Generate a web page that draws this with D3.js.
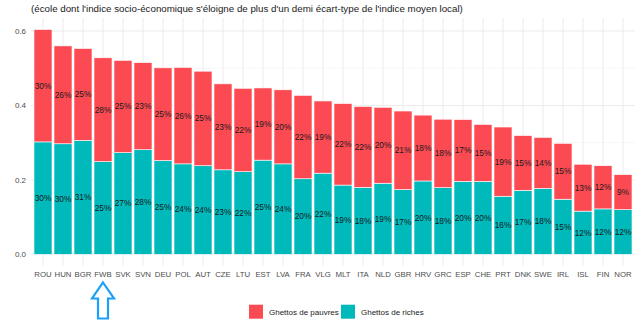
<!DOCTYPE html>
<html>
<head>
<meta charset="utf-8">
<script src="https://cdn.jsdelivr.net/npm/d3@7"></script>
<style>
  html, body { margin: 0; padding: 0; background: #fff; }
  svg { display: block; font-family: "Liberation Sans", Arial, sans-serif; }
</style>
</head>
<body>
<div id="chart"></div>
<script>
const countries = ["ROU","HUN","BGR","FWB","SVK","SVN","DEU","POL","AUT","CZE",
  "LTU","EST","LVA","FRA","VLG","MLT","ITA","NLD","GBR","HRV",
  "GRC","ESP","CHE","PRT","DNK","SWE","IRL","ISL","FIN","NOR"]
// ghettos de riches (teal, bottom)
const riches = [0.302,0.297,0.306,0.249,0.273,0.281,0.252,0.243,0.238,0.227,
  0.222,0.253,0.243,0.203,0.218,0.186,0.180,0.191,0.174,0.197,
  0.179,0.196,0.196,0.156,0.172,0.177,0.148,0.116,0.122,0.120]
// ghettos de pauvres (red, top)
const pauvres = [0.302,0.263,0.247,0.279,0.248,0.234,0.249,0.259,0.254,0.231,
  0.224,0.194,0.199,0.224,0.194,0.219,0.217,0.204,0.211,0.177,
  0.184,0.166,0.153,0.186,0.147,0.137,0.150,0.126,0.116,0.094]
const yTicks = [0, 0.2, 0.4, 0.6]
const yMinor = [0.1, 0.3, 0.5]
const seriesNames = ["Ghettos de pauvres", "Ghettos de riches"]
const subtitle = "(école dont l'indice socio-économique s'éloigne de plus d'un demi écart-type de l'indice moyen local)"

const W = 640, H = 329
const colRed = "#FC4A53", colTeal = "#00B9BA"
const panel = { left: 31, right: 635, top: 18, bottom: 265.5 }

const svg = d3.select("#chart").append("svg")
  .attr("width", W).attr("height", H)

const x = d3.scaleBand().domain(countries)
  .range([panel.left, panel.right])
  .paddingInner(0.1).paddingOuter(0.15)
const y = d3.scaleLinear().domain([0, 0.6]).range([254.3, 31])

// grid
const grid = svg.append("g")
grid.selectAll(".minor").data(yMinor).join("line")
  .attr("x1", panel.left).attr("x2", panel.right)
  .attr("y1", d => y(d)).attr("y2", d => y(d))
  .attr("stroke", "#F2F2F2").attr("stroke-width", 0.6)
grid.selectAll(".major").data(yTicks).join("line")
  .attr("x1", panel.left).attr("x2", panel.right)
  .attr("y1", d => y(d)).attr("y2", d => y(d))
  .attr("stroke", "#EBEBEB").attr("stroke-width", 1)
grid.selectAll(".vert").data(countries).join("line")
  .attr("x1", d => x(d) + x.bandwidth() / 2).attr("x2", d => x(d) + x.bandwidth() / 2)
  .attr("y1", panel.top).attr("y2", panel.bottom)
  .attr("stroke", "#EBEBEB").attr("stroke-width", 1)

// stacked bars
const rows = countries.map((c, i) => ({ c, riches: riches[i], pauvres: pauvres[i] }))
const stack = d3.stack().keys(["riches", "pauvres"])(rows)
const colors = { riches: colTeal, pauvres: colRed }

const layers = svg.append("g").selectAll("g").data(stack).join("g")
  .attr("fill", d => colors[d.key])
layers.selectAll("rect").data(d => d).join("rect")
  .attr("x", d => x(d.data.c))
  .attr("width", x.bandwidth())
  .attr("y", d => y(d[1]))
  .attr("height", d => y(d[0]) - y(d[1]))
  .attr("stroke", "#fff").attr("stroke-width", 0.6)

// percentage labels
layers.selectAll("text").data(d => d).join("text")
  .attr("x", d => x(d.data.c) + x.bandwidth() / 2)
  .attr("y", d => y((d[0] + d[1]) / 2))
  .attr("dy", "0.35em")
  .attr("text-anchor", "middle")
  .attr("font-size", 8.3)
  .attr("fill", "#1a1a1a")
  .text(d => Math.round((d[1] - d[0]) * 100) + "%")

// y axis labels
svg.append("g").selectAll("text").data(yTicks).join("text")
  .attr("x", 26).attr("y", d => y(d)).attr("dy", "0.35em")
  .attr("text-anchor", "end").attr("font-size", 8)
  .attr("fill", "#4D4D4D")
  .text(d => d3.format(".1f")(d))

// x axis labels
svg.append("g").selectAll("text").data(countries).join("text")
  .attr("x", d => x(d) + x.bandwidth() / 2).attr("y", 274).attr("dy", "0.35em")
  .attr("text-anchor", "middle").attr("font-size", 7.8)
  .attr("fill", "#4D4D4D")
  .text(d => d)

// subtitle
svg.append("text")
  .attr("x", 31).attr("y", 9).attr("dy", "0.35em")
  .attr("font-size", 9.75).attr("fill", "#1a1a1a")
  .text(subtitle)

// arrow pointing at FWB
const ax = x("FWB") + x.bandwidth() / 2
const arrow = [[0, 0], [11, 16], [5, 16], [5, 36], [-5, 36], [-5, 16], [-11, 16]]
svg.append("path")
  .attr("d", d3.line()(arrow.map(p => [ax + p[0], 282.5 + p[1]])) + "Z")
  .attr("fill", "#fff").attr("stroke", "#1AA0F5").attr("stroke-width", 2.2)
  .attr("stroke-linejoin", "miter")

// legend
const legend = svg.append("g")
const legX = [249, 341]
const legCol = [colRed, colTeal]
seriesNames.forEach((name, i) => {
  legend.append("rect")
    .attr("x", legX[i]).attr("y", 304.7).attr("width", 14).attr("height", 14)
    .attr("fill", legCol[i])
  legend.append("text")
    .attr("x", legX[i] + 20).attr("y", 311.7).attr("dy", "0.35em")
    .attr("font-size", 8).attr("fill", "#1a1a1a")
    .text(name)
})
</script>
</body>
</html>
